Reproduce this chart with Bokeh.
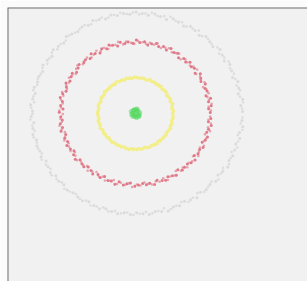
import numpy as np
from bokeh.plotting import figure
from bokeh.models import Span
from bokeh.embed import file_html
from bokeh.resources import INLINE

# ---- data (rings of scattered points around a centre) ----
green_x = [0.01, -0.02, 0.03, -0.03, 0.00, 0.02, -0.01, 0.04, -0.04, 0.01, -0.02, 0.03, 0.00, -0.01,
           0.035, -0.035, 0.015, -0.015]
green_y = [0.02, 0.03, -0.01, 0.00, -0.03, 0.03, -0.02, 0.01, 0.02, -0.04, -0.03, -0.03, 0.04, 0.00,
           -0.02, -0.015, 0.045, 0.035]

yellow_angle = [0.5, 4.2, 8.1, 12.3, 16.0, 19.8, 24.1, 28.0, 31.7, 36.2, 40.0, 43.9, 48.1, 52.0, 55.8,
                60.3, 64.0, 67.9, 72.2, 76.1, 79.8, 84.0, 88.2, 91.9, 96.0, 100.1, 103.8, 108.2, 112.0, 115.9,
                120.3, 124.0, 127.8, 132.1, 136.0, 140.2, 143.9, 148.0, 152.1, 155.8, 160.2, 164.0, 167.9, 172.1,
                176.0, 180.2, 183.9, 188.0, 192.1, 195.8, 200.2, 204.0, 207.9, 212.1, 216.0, 220.3, 223.8, 228.0,
                232.2, 235.9, 240.1, 244.0, 247.8, 252.2, 256.0, 260.1, 263.9, 268.0, 272.2, 275.8, 280.1, 284.0,
                287.9, 292.2, 296.0, 300.1, 303.8, 308.0, 312.2, 315.9, 320.0, 324.1, 327.8, 332.0, 336.2, 339.9,
                344.0, 348.1, 351.8, 356.0]
yellow_radius = [0.355, 0.362, 0.350, 0.358, 0.366, 0.352, 0.360, 0.356, 0.348, 0.363, 0.357, 0.351,
                 0.364, 0.359, 0.353, 0.361, 0.355, 0.367, 0.350, 0.358, 0.362, 0.354, 0.360, 0.365,
                 0.352, 0.357, 0.363, 0.349, 0.359, 0.356, 0.364, 0.351, 0.358, 0.362, 0.355, 0.360,
                 0.366, 0.353, 0.357, 0.361, 0.350, 0.359, 0.364, 0.354, 0.358, 0.362, 0.356, 0.351,
                 0.363, 0.357, 0.360, 0.366, 0.352, 0.359, 0.355, 0.361, 0.349, 0.358, 0.364, 0.354,
                 0.360, 0.356, 0.362, 0.351, 0.359, 0.365, 0.353, 0.357, 0.361, 0.355, 0.360, 0.350,
                 0.358, 0.363, 0.354, 0.359, 0.366, 0.352, 0.357, 0.361, 0.356, 0.362, 0.350, 0.358,
                 0.364, 0.355, 0.360, 0.353, 0.359, 0.357]

red_angle = [0.8, 3.9, 6.2, 9.5, 12.1, 14.8, 18.3, 20.7, 23.9, 27.2, 29.6, 32.8, 35.4, 38.9, 41.3,
             44.6, 47.2, 50.1, 53.7, 56.4, 59.0, 62.5, 65.1, 68.3, 71.8, 74.2, 77.6, 80.3, 83.1, 86.7,
             89.4, 92.0, 95.6, 98.2, 101.5, 104.1, 107.7, 110.3, 113.0, 116.4, 119.2, 122.6, 125.3, 128.1,
             131.5, 134.0, 137.6, 140.2, 143.7, 146.3, 149.1, 152.5, 155.2, 158.0, 161.4, 164.1, 167.5,
             170.3, 173.6, 176.2, 179.0, 182.7, 185.3, 188.1, 191.4, 194.0, 197.6, 200.2, 203.5, 206.1,
             209.8, 212.4, 215.0, 218.5, 221.2, 224.6, 227.3, 230.0, 233.4, 236.1, 239.7, 242.3, 245.0,
             248.6, 251.2, 254.5, 257.1, 260.8, 263.4, 266.0, 269.5, 272.2, 275.6, 278.3, 281.0, 284.4,
             287.1, 290.7, 293.3, 296.0, 299.5, 302.2, 305.6, 308.3, 311.0, 314.4, 317.1, 320.6, 323.2,
             326.0, 329.5, 332.1, 335.7, 338.3, 341.0, 344.5, 347.2, 350.6, 353.3, 356.0]
red_radius = [0.712, 0.698, 0.725, 0.705, 0.731, 0.694, 0.718, 0.709, 0.727, 0.701, 0.715, 0.734,
              0.696, 0.721, 0.708, 0.729, 0.703, 0.717, 0.692, 0.724, 0.711, 0.733, 0.699, 0.720,
              0.706, 0.728, 0.714, 0.695, 0.722, 0.710, 0.735, 0.702, 0.719, 0.707, 0.726, 0.697,
              0.716, 0.730, 0.704, 0.723, 0.693, 0.713, 0.732, 0.700, 0.719, 0.708, 0.727, 0.711,
              0.696, 0.724, 0.715, 0.703, 0.729, 0.710, 0.698, 0.721, 0.734, 0.706, 0.717, 0.692,
              0.726, 0.712, 0.700, 0.723, 0.709, 0.731, 0.697, 0.718, 0.705, 0.728, 0.714, 0.694,
              0.720, 0.733, 0.702, 0.716, 0.725, 0.699, 0.711, 0.730, 0.707, 0.722, 0.695, 0.719,
              0.713, 0.735, 0.701, 0.724, 0.708, 0.696, 0.727, 0.715, 0.704, 0.721, 0.710, 0.732,
              0.698, 0.717, 0.726, 0.703, 0.714, 0.729, 0.693, 0.720, 0.711, 0.706, 0.723, 0.734,
              0.700, 0.718, 0.709, 0.728, 0.697, 0.716, 0.725, 0.704, 0.713, 0.731, 0.699, 0.719]

gray_angle = [1.1, 4.6, 7.9, 11.4, 14.5, 18.2, 21.3, 25.0, 28.6, 31.8, 35.3, 38.5, 42.1, 45.4, 48.9,
              52.2, 55.6, 59.1, 62.4, 65.9, 69.3, 72.6, 76.2, 79.5, 82.9, 86.3, 89.7, 93.1, 96.5, 100.0,
              103.4, 106.8, 110.2, 113.6, 117.0, 120.5, 123.8, 127.3, 130.6, 134.1, 137.5, 140.9, 144.3,
              147.7, 151.1, 154.6, 157.9, 161.4, 164.8, 168.2, 171.6, 175.0, 178.5, 181.8, 185.3, 188.7,
              192.1, 195.5, 198.9, 202.4, 205.7, 209.2, 212.6, 216.0, 219.4, 222.8, 226.3, 229.6, 233.1,
              236.5, 239.9, 243.3, 246.7, 250.2, 253.5, 257.0, 260.4, 263.8, 267.2, 270.6, 274.1, 277.4,
              280.9, 284.3, 287.7, 291.1, 294.5, 298.0, 301.3, 304.8, 308.2, 311.6, 315.0, 318.4, 321.9,
              325.2, 328.7, 332.1, 335.5, 338.9, 342.3, 345.8, 349.1, 352.6, 356.0]
gray_radius = [1.020, 1.006, 1.031, 0.998, 1.015, 1.027, 0.992, 1.010, 1.024, 0.996, 1.012, 1.029,
               0.994, 1.008, 1.021, 0.990, 1.005, 1.018, 0.987, 1.002, 1.014, 0.985, 0.999, 1.011,
               0.989, 1.003, 1.016, 0.993, 1.007, 0.996, 1.012, 0.988, 1.001, 1.015, 0.991, 1.004,
               0.986, 1.000, 1.013, 0.983, 0.997, 1.009, 0.980, 0.995, 1.006, 0.978, 0.992, 0.984,
               0.999, 0.976, 0.990, 1.003, 0.981, 0.994, 0.972, 0.988, 1.000, 0.979, 0.993, 0.985,
               0.997, 0.975, 0.989, 1.002, 0.982, 0.996, 0.986, 1.004, 0.991, 0.998, 1.008, 0.987,
               1.001, 1.012, 0.994, 1.006, 1.017, 0.999, 1.010, 0.992, 1.005, 1.019, 0.997, 1.011,
               1.023, 1.003, 1.014, 0.995, 1.009, 1.026, 1.001, 1.016, 1.004, 1.022, 0.998, 1.013,
               1.028, 1.007, 1.018, 1.011, 1.002, 1.024, 1.009, 1.030, 1.016]


def ring(angle, radius):
    a = np.radians(np.array(angle))
    r = np.array(radius)
    return r * np.cos(a), r * np.sin(a)

p = figure(width=307, height=281, x_range=(-1.219, 1.638), y_range=(-1.68, 1.06),
           output_backend="svg", toolbar_location=None,
           x_axis_location=None, y_axis_location=None,
           min_border_left=7, min_border_top=7, min_border_right=0, min_border_bottom=0)
p.grid.visible = False
p.background_fill_color = "#f1f1f1"
p.border_fill_color = "#fbfbfb"
p.outline_line_color = None
p.add_layout(Span(location=-1.219, dimension="height", line_color="#6f6f6f", line_width=2))
p.add_layout(Span(location=1.06, dimension="width", line_color="#6f6f6f", line_width=2))

# gray outer ring (passes for a fuzzy look)
gx, gy = ring(gray_angle, gray_radius)
p.scatter(gx, gy, size=3.0, fill_color="#c6c6c6", line_color=None, fill_alpha=0.5)
gx2, gy2 = ring([a + 1.7 for a in gray_angle], gray_radius[::-1])
p.scatter(gx2, gy2, size=2.6, fill_color="#cacaca", line_color=None, fill_alpha=0.5)

# red ring
rx, ry = ring(red_angle, red_radius)
p.scatter(rx, ry, size=3.0, fill_color="#d9475c", line_color=None, fill_alpha=0.7)
rx2, ry2 = ring([a + 1.5 for a in red_angle], red_radius[::-1])
p.scatter(rx2, ry2, size=2.6, fill_color="#e27a88", line_color=None, fill_alpha=0.65)

# yellow ring
yx, yy = ring(yellow_angle, yellow_radius)
p.scatter(yx, yy, size=3.4, fill_color="#f2ec6a", line_color=None, fill_alpha=0.8)
yx2, yy2 = ring([a + 2.0 for a in yellow_angle], yellow_radius[::-1])
p.scatter(yx2, yy2, size=3.0, fill_color="#f4f08a", line_color=None, fill_alpha=0.7)

# green centre
p.scatter(green_x, green_y, size=5.0, fill_color="#55d860", line_color=None, fill_alpha=0.55)

open("out.html", "w").write(file_html(p, INLINE))
